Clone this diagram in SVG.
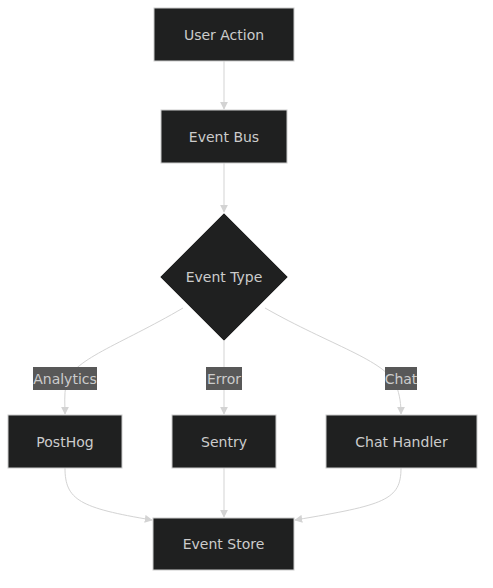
<svg xmlns="http://www.w3.org/2000/svg" width="493" height="588" viewBox="0 0 493 588">
<style>
.node rect,.node polygon{fill:#1f2020;stroke:#cccccc;stroke-width:1}
.node text{fill:#cccccc;font-family:"DejaVu Sans",Verdana,sans-serif;font-size:14px;text-anchor:middle;dominant-baseline:central}
.edge{fill:none;stroke:#d3d3d3;stroke-width:1}
.lbl rect{fill:#585858}
.lbl text{fill:#cccccc;font-family:"DejaVu Sans",Verdana,sans-serif;font-size:14px;text-anchor:middle;dominant-baseline:central}
</style>
<defs>
<marker id="arr" viewBox="0 0 10 10" refX="9" refY="5" markerWidth="8" markerHeight="8" orient="auto" markerUnits="userSpaceOnUse">
<path d="M0,0 L10,5 L0,10 z" fill="#d3d3d3"/>
</marker>
</defs>
<rect width="493" height="588" fill="#ffffff"/>
<g id="connectors">
<path class="edge" d="M224,61 L224,109" marker-end="url(#arr)"/>
<path class="edge" d="M224,163 L224,212" marker-end="url(#arr)"/>
<path class="edge" d="M183,308 C120,345 70,360 66,385 C64,395 65,405 65,414" marker-end="url(#arr)"/>
<path class="edge" d="M224,341 L224,414" marker-end="url(#arr)"/>
<path class="edge" d="M265,308 C330,345 385,360 396,385 C400,395 401,405 401,414" marker-end="url(#arr)"/>
<path class="edge" d="M65,468 C65,500 80,508 152,520" marker-end="url(#arr)"/>
<path class="edge" d="M224,468 L224,517" marker-end="url(#arr)"/>
<path class="edge" d="M401,468 C401,500 385,505 295,520" marker-end="url(#arr)"/>
</g>
<g id="user-action" class="node"><rect x="154" y="8" width="140" height="53"/><text x="224" y="34.5">User Action</text></g>
<g id="event-bus" class="node"><rect x="161" y="110" width="126" height="53"/><text x="224" y="136.5">Event Bus</text></g>
<g id="event-type" class="node"><polygon points="224,213 288,277 224,341 160,277"/><text x="224" y="277">Event Type</text></g>
<g id="posthog" class="node"><rect x="8" y="415" width="114" height="53"/><text x="65" y="441.5">PostHog</text></g>
<g id="sentry" class="node"><rect x="172" y="415" width="104" height="53"/><text x="224" y="441.5">Sentry</text></g>
<g id="chat-handler" class="node"><rect x="326" y="415" width="151" height="53"/><text x="401.5" y="441.5">Chat Handler</text></g>
<g id="event-store" class="node"><rect x="153" y="518" width="141" height="52"/><text x="223.5" y="544">Event Store</text></g>
<g id="edge-labels">
<g class="lbl"><rect x="33" y="367" width="64" height="23"/><text x="65" y="378.5">Analytics</text></g>
<g class="lbl"><rect x="206" y="367" width="36" height="23"/><text x="224" y="378.5">Error</text></g>
<g class="lbl"><rect x="385" y="367" width="32" height="23"/><text x="401" y="378.5">Chat</text></g>
</g>
</svg>
